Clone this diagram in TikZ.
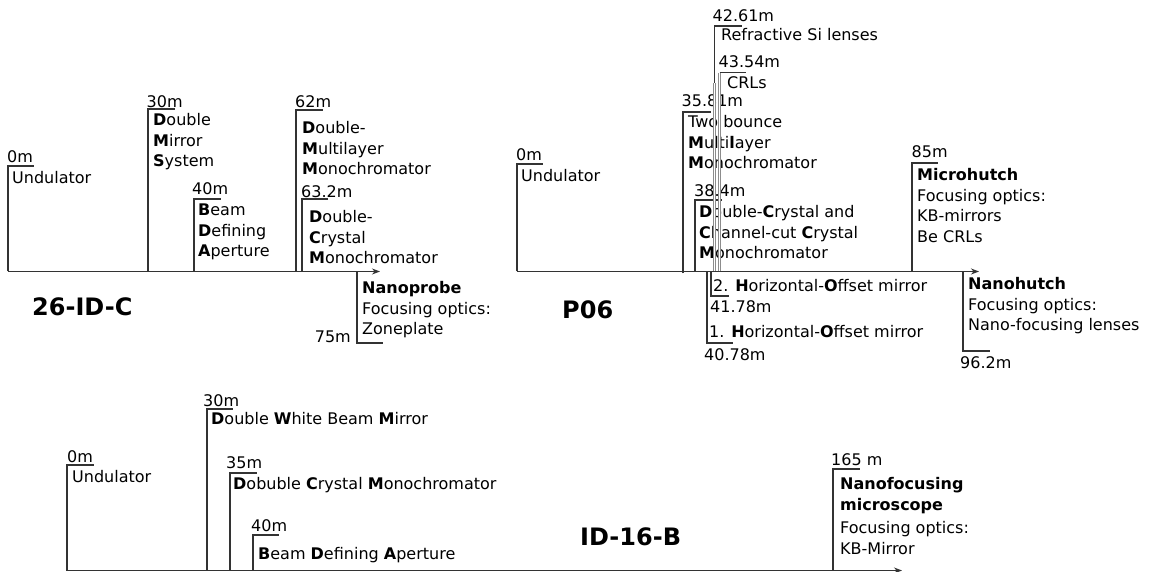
\documentclass[tikz,border=0pt]{standalone}
\usepackage{fontspec}
\setmainfont{DejaVu Sans}
\usetikzlibrary{arrows.meta}
\definecolor{lc}{HTML}{333333}
\newcommand{\fsz}{\fontsize{16}{20.4}\selectfont}
\newcommand{\tfz}{\fontsize{24}{28}\selectfont\bfseries}
\begin{document}
\begin{tikzpicture}[x=1pt,y=-1pt,
  ln/.style={draw=lc, line width=1.25pt},
  gl/.style={draw=gray!90, line width=0.55pt, double=white, double distance=1pt},
  axisline/.style={draw=lc, line width=1.25pt, -{Stealth[length=8pt,width=6pt]}},
  txt/.style={anchor=north west, inner sep=0pt, align=left, font=\fsz},
  lbl/.style={anchor=west, inner sep=0pt, font=\fsz},
  lblr/.style={anchor=east, inner sep=0pt, font=\fsz},
  ttl/.style={anchor=west, inner sep=0pt, font=\tfz}]
\useasboundingbox (0,0) rectangle (1152,572);

%================ Panel 1: 26-ID-C ================
\coordinate (p1s) at (8,271.5);
\coordinate (p1e) at (380,271.5);
\draw[axisline] (p1s) -- (p1e);
\node[ttl] (p1title) at (32,307) {26-ID-C};

\coordinate (p1a0) at (8,271.5);   \coordinate (p1t0) at (34,166);
\draw[ln] (p1a0) |- (p1t0);
\node[lbl] (p1l0) at (7,157) {0m};
\node[txt] (p1x0) at (12,169.5) {\strut Undulator};

\coordinate (p1a30) at (148,271.5); \coordinate (p1t30) at (175,109);
\draw[ln] (p1a30) |- (p1t30);
\node[lbl] (p1l30) at (146.5,102) {30m};
\node[txt] (p1x30) at (153,111.5) {\strut\textbf{D}ouble\\\textbf{M}irror\\\textbf{S}ystem};

\coordinate (p1a40) at (194,271.5); \coordinate (p1t40) at (221,199);
\draw[ln] (p1a40) |- (p1t40);
\node[lbl] (p1l40) at (192,189) {40m};
\node[txt] (p1x40) at (198,201.5) {\strut\textbf{B}eam\\\textbf{D}efining\\\textbf{A}perture};

\coordinate (p1a62) at (296,271.5); \coordinate (p1t62) at (323,110);
\draw[ln] (p1a62) |- (p1t62);
\node[lbl] (p1l62) at (295,102) {62m};
\node[txt] (p1x62) at (302,119.5) {\strut\textbf{D}ouble-\\\textbf{M}ultilayer\\\textbf{M}onochromator};

\coordinate (p1a63) at (302,271.5); \coordinate (p1t63) at (328,199);
\draw[ln] (p1a63) |- (p1t63);
\node[lbl] (p1l63) at (301,192) {63.2m};
\node[txt] (p1x63) at (309,208.5) {\strut\textbf{D}ouble-\\\textbf{C}rystal\\\textbf{M}onochromator};

\coordinate (p1a75) at (357,271.5); \coordinate (p1t75) at (383,343);
\draw[ln] (p1a75) |- (p1t75);
\node[lblr] (p1l75) at (351,337) {75m};
\node[txt] (p1x75) at (362,279.5) {\strut\textbf{Nanoprobe}\\Focusing optics:\\Zoneplate};

%================ Panel 2: P06 ================
\coordinate (p2s) at (517,271.5);
\coordinate (p2e) at (979,271.5);
\draw[axisline] (p2s) -- (p2e);
\node[ttl] (p2title) at (562,310) {P06};

\coordinate (p2a0) at (517,271.5); \coordinate (p2t0) at (543,164);
\draw[ln] (p2a0) |- (p2t0);
\node[lbl] (p2l0) at (516,155) {0m};
\node[txt] (p2x0) at (521,167.5) {\strut Undulator};

\coordinate (p2a35) at (683,273.5); \coordinate (p2t35) at (711,112);
\draw[ln] (p2a35) |- (p2t35);
\node[lbl] (p2l35) at (681.5,101) {35.81m};
\node[txt] (p2x35) at (688,113.5) {\strut Two bounce\\\textbf{M}ulti\textbf{l}ayer\\\textbf{M}onochromator};

\coordinate (p2a38) at (695,271.5); \coordinate (p2t38) at (722,200);
\draw[ln] (p2a38) |- (p2t38);
\node[lbl] (p2l38) at (694,191) {38.4m};
\node[txt] (p2x38) at (699,203.5) {\strut\textbf{D}ouble-\textbf{C}rystal and\\\textbf{C}hannel-cut \textbf{C}rystal\\\textbf{M}onochromator};

\coordinate (p2a42) at (714.5,271.5); \coordinate (p2m42) at (714.5,83); \coordinate (p2t42) at (742,26);
\draw[gl] (p2a42) -- (p2m42);
\draw[ln] (p2m42) |- (p2t42);
\node[lbl] (p2l42) at (712.5,16) {42.61m};
\node[txt] (p2x42) at (721,26.5) {\strut Refractive Si lenses};

\coordinate (p2a43) at (719.5,271.5); \coordinate (p2c43) at (719.5,73); \coordinate (p2t43) at (746,73);
\draw[gl] (p2a43) -- (p2c43);
\draw[ln, line width=1pt] (p2c43) -- (p2t43);
\node[lbl] (p2l43) at (718.5,62) {43.54m};
\node[txt] (p2x43) at (727,74.5) {\strut CRLs};

\coordinate (p2ah2) at (711,271.5); \coordinate (p2th2) at (729,296);
\draw[ln] (p2ah2) |- (p2th2);
\node[txt] (p2xh2) at (713,277.5) {\strut 2. \textbf{H}orizontal-\textbf{O}ffset mirror};
\node[lbl] (p2lh2) at (710,307) {41.78m};

\coordinate (p2ah1) at (707,271.5); \coordinate (p2th1) at (733,343);
\draw[ln] (p2ah1) |- (p2th1);
\node[txt] (p2xh1) at (709,323.5) {\strut 1. \textbf{H}orizontal-\textbf{O}ffset mirror};
\node[lbl] (p2lh1) at (704,355) {40.78m};

\coordinate (p2a85) at (912,271.5); \coordinate (p2t85) at (938,163);
\draw[ln] (p2a85) |- (p2t85);
\node[lbl] (p2l85) at (911.5,152) {85m};
\node[txt] (p2x85) at (917,166.5) {\strut\textbf{Microhutch}\\Focusing optics:\\KB-mirrors\\Be CRLs};

\coordinate (p2a96) at (963,271.5); \coordinate (p2t96) at (990,351);
\draw[ln] (p2a96) |- (p2t96);
\node[lbl] (p2l96) at (960,363) {96.2m};
\node[txt] (p2x96) at (968,275.5) {\strut\textbf{Nanohutch}\\Focusing optics:\\Nano-focusing lenses};

%================ Panel 3: ID-16-B ================
\coordinate (p3s) at (67,570.5);
\coordinate (p3e) at (902,570.5);
\draw[axisline] (p3s) -- (p3e);
\node[ttl] (p3title) at (580,537) {ID-16-B};

\coordinate (p3a0) at (67,570.5); \coordinate (p3t0) at (94,465);
\draw[ln] (p3a0) |- (p3t0);
\node[lbl] (p3l0) at (67,457) {0m};
\node[txt] (p3x0) at (72,468.5) {\strut Undulator};

\coordinate (p3a30) at (207,570.5); \coordinate (p3t30) at (233,409);
\draw[ln] (p3a30) |- (p3t30);
\node[lbl] (p3l30) at (203,401) {30m};
\node[txt] (p3x30) at (211,410.5) {\strut\textbf{D}ouble \textbf{W}hite Beam \textbf{M}irror};

\coordinate (p3a35) at (230,570.5); \coordinate (p3t35) at (257,473);
\draw[ln] (p3a35) |- (p3t35);
\node[lbl] (p3l35) at (226,463) {35m};
\node[txt] (p3x35) at (233,475.5) {\strut\textbf{D}obuble \textbf{C}rystal \textbf{M}onochromator};

\coordinate (p3a40) at (253,570.5); \coordinate (p3t40) at (279,535);
\draw[ln] (p3a40) |- (p3t40);
\node[lbl] (p3l40) at (251,526) {40m};
\node[txt] (p3x40) at (258,545.5) {\strut\textbf{B}eam \textbf{D}efining \textbf{A}perture};

\coordinate (p3a165) at (833,570.5); \coordinate (p3t165) at (860,469);
\draw[ln] (p3a165) |- (p3t165);
\node[lbl] (p3l165) at (831,460) {165 m};
\node[txt] (p3x165) at (840,475.5) {\strut\textbf{Nanofocusing}\\\textbf{microscope}\\[3pt]Focusing optics:\\KB-Mirror};
\end{tikzpicture}
\end{document}
